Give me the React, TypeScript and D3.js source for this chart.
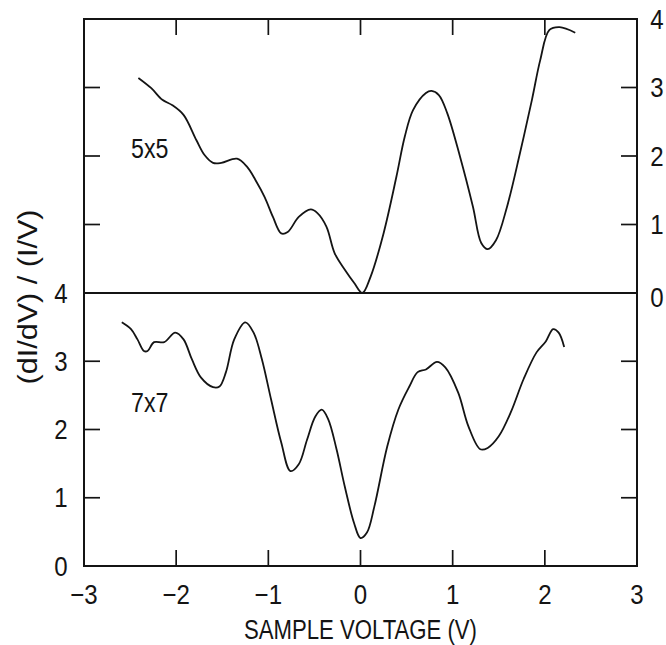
import React, { useEffect } from "react";
import * as d3 from "d3";

const voltage5 = [-2.41, -2.27, -2.15, -2.04, -1.92, -1.78, -1.69, -1.6, -1.51, -1.34, -1.23, -1.14, -1.04, -0.95, -0.86, -0.79, -0.67, -0.54, -0.47, -0.37, -0.28, -0.17, -0.07, 0.02, 0.11, 0.25, 0.39, 0.48, 0.57, 0.71, 0.77, 0.85, 0.94, 1.08, 1.22, 1.31, 1.38, 1.47, 1.59, 1.73, 1.86, 1.95, 2.05, 2.16, 2.33];
const didv5 = [3.14, 2.99, 2.82, 2.74, 2.6, 2.23, 2.01, 1.9, 1.9, 1.96, 1.84, 1.65, 1.4, 1.11, 0.87, 0.89, 1.11, 1.22, 1.17, 0.97, 0.58, 0.34, 0.15, 0.0, 0.24, 0.87, 1.7, 2.28, 2.67, 2.92, 2.95, 2.89, 2.63, 1.99, 1.26, 0.73, 0.64, 0.77, 1.26, 2.04, 2.82, 3.4, 3.84, 3.88, 3.8];

const voltage7 = [-2.59, -2.49, -2.42, -2.35, -2.31, -2.24, -2.13, -2.01, -1.92, -1.83, -1.73, -1.6, -1.53, -1.46, -1.37, -1.25, -1.16, -1.07, -0.97, -0.86, -0.76, -0.67, -0.58, -0.49, -0.42, -0.35, -0.26, -0.17, -0.07, 0.0, 0.07, 0.15, 0.29, 0.41, 0.53, 0.62, 0.71, 0.83, 0.92, 1.06, 1.17, 1.3, 1.38, 1.5, 1.63, 1.77, 1.91, 2.01, 2.09, 2.15, 2.21];
const didv7 = [3.57, 3.47, 3.32, 3.15, 3.15, 3.28, 3.28, 3.42, 3.32, 3.03, 2.76, 2.62, 2.63, 2.84, 3.32, 3.57, 3.42, 3.03, 2.44, 1.81, 1.39, 1.49, 1.85, 2.19, 2.29, 2.15, 1.71, 1.16, 0.63, 0.41, 0.49, 0.87, 1.75, 2.29, 2.63, 2.84, 2.88, 2.99, 2.91, 2.54, 2.05, 1.71, 1.73, 1.9, 2.25, 2.74, 3.13, 3.29, 3.47, 3.42, 3.21];

const xTicks = [-3, -2, -1, 0, 1, 2, 3];
const yTicks = [0, 1, 2, 3, 4];
const innerTicks = [1, 2, 3];
const innerXTicks = [-2, -1, 0, 1, 2];

const W = 666;
const H = 645;
const L = 84;
const R = 637;
const TOP = 19;
const MID = 293;
const BOT = 566;
const TICK = 16;
const FONT = "'Liberation Sans', Arial, sans-serif";
const INK = "#141414";

function Label(props: { x: number; y: number; size: number; anchor?: string; children: React.ReactNode }) {
  const { x, y, size, anchor = "middle", children } = props;
  return (
    <text
      transform={`translate(${x},${y}) scale(0.86,1)`}
      fontSize={size}
      textAnchor={anchor}
      dominantBaseline="central"
    >
      {children}
    </text>
  );
}

export default function App() {
  useEffect(() => {
    document.body.style.margin = "0";
  }, []);

  const x = d3.scaleLinear().domain([-3, 3]).range([L, R]);
  const yUp = d3.scaleLinear().domain([0, 4]).range([MID, TOP]);
  const yLo = d3.scaleLinear().domain([0, 4]).range([BOT, MID]);

  const line5 = d3
    .line<number>()
    .x((_, i) => x(voltage5[i]))
    .y((d) => yUp(d))
    .curve(d3.curveCatmullRom.alpha(0.5));
  const line7 = d3
    .line<number>()
    .x((_, i) => x(voltage7[i]))
    .y((d) => yLo(d))
    .curve(d3.curveCatmullRom.alpha(0.5));

  return (
    <svg width={W} height={H} style={{ position: "absolute", left: 0, top: 0, background: "#fff" }}>
      <rect x={L} y={TOP} width={R - L} height={BOT - TOP} fill="none" stroke={INK} strokeWidth={2} />
      <line x1={L} x2={R} y1={MID} y2={MID} stroke={INK} strokeWidth={2} />

      {innerXTicks.map((t) => (
        <g key={"xt" + t}>
          <line x1={x(t)} x2={x(t)} y1={TOP} y2={TOP + TICK} stroke={INK} strokeWidth={1.7} />
          <line x1={x(t)} x2={x(t)} y1={BOT} y2={BOT - TICK} stroke={INK} strokeWidth={1.7} />
        </g>
      ))}

      {innerTicks.map((t) => (
        <g key={"yt" + t}>
          <line x1={L} x2={L + TICK} y1={yUp(t)} y2={yUp(t)} stroke={INK} strokeWidth={1.7} />
          <line x1={R} x2={R - TICK} y1={yUp(t)} y2={yUp(t)} stroke={INK} strokeWidth={1.7} />
          <line x1={L} x2={L + TICK} y1={yLo(t)} y2={yLo(t)} stroke={INK} strokeWidth={1.7} />
          <line x1={R} x2={R - TICK} y1={yLo(t)} y2={yLo(t)} stroke={INK} strokeWidth={1.7} />
        </g>
      ))}

      <path d={line5(didv5) || ""} fill="none" stroke={INK} strokeWidth={1.8} />
      <path d={line7(didv7) || ""} fill="none" stroke={INK} strokeWidth={1.8} />

      <g fontFamily={FONT} fill={INK}>
        {yTicks.map((t) => (
          <Label key={"ry" + t} x={657} y={yUp(t) + (t === 0 ? 4 : 0)} size={28}>
            {t}
          </Label>
        ))}
        {yTicks.map((t) => (
          <Label key={"ly" + t} x={61} y={yLo(t)} size={28}>
            {t}
          </Label>
        ))}
        {xTicks.map((t) => (
          <Label key={"xl" + t} x={x(t)} y={594} size={28}>
            {t < 0 ? "\u2212" + Math.abs(t) : t}
          </Label>
        ))}
        <text x={x(0)} y={630} fontSize={27} textAnchor="middle" dominantBaseline="central" textLength={233} lengthAdjust="spacingAndGlyphs">
          SAMPLE VOLTAGE (V)
        </text>
        <text
          transform={`translate(28,297) rotate(-90)`}
          fontSize={27}
          textAnchor="middle"
          dominantBaseline="central"
          textLength={175}
          lengthAdjust="spacingAndGlyphs"
        >
          (dI/dV) / (I/V)
        </text>
        <Label x={131} y={148} size={27} anchor="start">
          5x5
        </Label>
        <Label x={131} y={402} size={27} anchor="start">
          7x7
        </Label>
      </g>
    </svg>
  );
}
